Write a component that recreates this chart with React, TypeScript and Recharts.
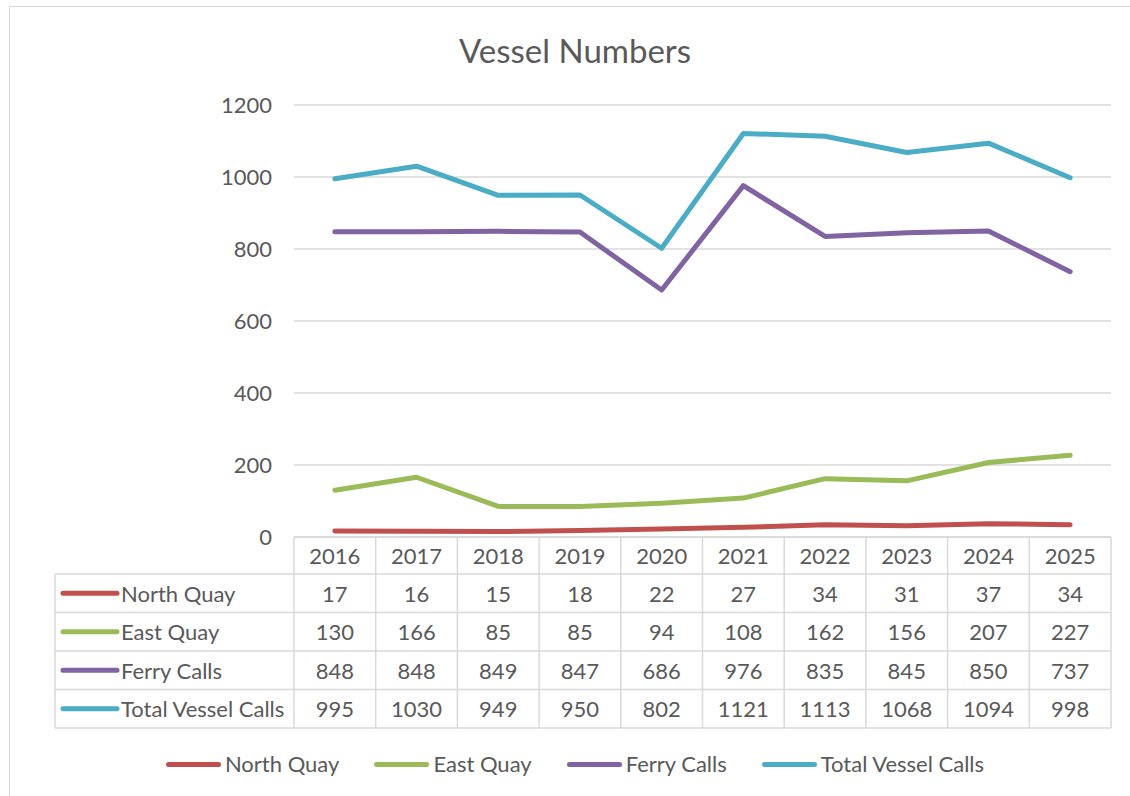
import React from 'react';
import { LineChart, Line, XAxis, YAxis, CartesianGrid } from 'recharts';

const years = ['2016', '2017', '2018', '2019', '2020', '2021', '2022', '2023', '2024', '2025'];
const northQuay = [17, 16, 15, 18, 22, 27, 34, 31, 37, 34];
const eastQuay = [130, 166, 85, 85, 94, 108, 162, 156, 207, 227];
const ferryCalls = [848, 848, 849, 847, 686, 976, 835, 845, 850, 737];
const totalVesselCalls = [995, 1030, 949, 950, 802, 1121, 1113, 1068, 1094, 998];
const yTicks = [0, 200, 400, 600, 800, 1000, 1200];

const series = [
  { key: 'north', name: 'North Quay', values: northQuay, color: '#C0504D' },
  { key: 'east', name: 'East Quay', values: eastQuay, color: '#9BBB59' },
  { key: 'ferry', name: 'Ferry Calls', values: ferryCalls, color: '#8064A2' },
  { key: 'total', name: 'Total Vessel Calls', values: totalVesselCalls, color: '#4BACC6' },
];

const data = years.map((year, i) => {
  const row: Record<string, string | number> = { year };
  series.forEach((s) => {
    row[s.key] = s.values[i];
  });
  return row;
});

const W = 1130;
const H = 796;
const MARGIN = { top: 105, right: 19, bottom: 0, left: 0 };
const YAXIS_W = 294;
const XAXIS_H = 259;
const PLOT_W = W - MARGIN.left - MARGIN.right - YAXIS_W;
const BAND = PLOT_W / years.length;
const HEADER_H = 37;
const ROW_H = 38.5;
const LABEL_COL_LEFT = 55;
const TEXT = '#595959';
const GRID = '#d9d9d9';
const FONT = 'Lato, "Open Sans", sans-serif';
const FS = 22;

function TableColumn(props: any) {
  const { x, y, payload } = props;
  const idx = years.indexOf(String(payload.value));
  const left = x - BAND / 2;
  const right = x + BAND / 2;
  const bottom = y + HEADER_H + ROW_H * series.length;
  const els: React.ReactNode[] = [];
  els.push(
    <text key="h" x={x} y={y + HEADER_H / 2} textAnchor="middle" dominantBaseline="central" fontSize={FS} fill={TEXT} fontFamily={FONT}>
      {payload.value}
    </text>
  );
  series.forEach((s, r) => {
    const cy = y + HEADER_H + ROW_H * r + ROW_H / 2;
    els.push(
      <text key={'v' + r} x={x} y={cy} textAnchor="middle" dominantBaseline="central" fontSize={FS} fill={TEXT} fontFamily={FONT}>
        {s.values[idx]}
      </text>
    );
  });
  els.push(<line key="vr" x1={right} x2={right} y1={y} y2={bottom} stroke={GRID} strokeWidth={1.5} />);
  if (idx === 0) {
    els.push(<line key="vl" x1={left} x2={left} y1={y} y2={bottom} stroke={GRID} strokeWidth={1.5} />);
    els.push(<line key="ll" x1={LABEL_COL_LEFT} x2={LABEL_COL_LEFT} y1={y + HEADER_H} y2={bottom} stroke={GRID} strokeWidth={1.5} />);
    series.forEach((s, r) => {
      const cy = y + HEADER_H + ROW_H * r + ROW_H / 2;
      els.push(
        <line key={'sw' + r} x1={LABEL_COL_LEFT + 8} x2={LABEL_COL_LEFT + 62} y1={cy} y2={cy} stroke={s.color} strokeWidth={5} strokeLinecap="round" />
      );
      els.push(
        <text key={'lb' + r} x={LABEL_COL_LEFT + 66} y={cy} dominantBaseline="central" fontSize={FS} fill={TEXT} fontFamily={FONT}>
          {s.name}
        </text>
      );
    });
  }
  const hx1 = idx === 0 ? LABEL_COL_LEFT : left;
  for (let r = 0; r <= series.length; r++) {
    const ly = y + HEADER_H + ROW_H * r;
    els.push(<line key={'hl' + r} x1={hx1} x2={right} y1={ly} y2={ly} stroke={GRID} strokeWidth={1.5} />);
  }
  return <g>{els}</g>;
}

function LegendBlock() {
  return (
    <div
      style={{
        position: 'absolute',
        left: 0,
        top: 750,
        width: 1150,
        display: 'flex',
        justifyContent: 'center',
        alignItems: 'center',
        fontFamily: FONT,
        fontSize: FS,
        color: TEXT,
        lineHeight: '28px',
      }}
    >
      {series.map((s, i) => (
        <div key={s.key} style={{ display: 'flex', alignItems: 'center', marginLeft: i === 0 ? 0 : 35 }}>
          <div style={{ width: 55, height: 5, borderRadius: 3, background: s.color, marginRight: 4 }} />
          <span>{s.name}</span>
        </div>
      ))}
    </div>
  );
}

export default function App() {
  return (
    <div style={{ position: 'absolute', left: 0, top: 0, width: W, height: H, overflow: 'hidden', background: '#fff' }}>
      <div style={{ position: 'absolute', left: 9, top: 6, width: 1140, height: 820, border: `1.5px solid ${GRID}`, boxSizing: 'border-box' }} />
      <div style={{ position: 'absolute', left: 0, top: 28, width: 1150, textAlign: 'center', fontFamily: FONT, fontSize: 33, lineHeight: '44px', color: TEXT }}>
        Vessel Numbers
      </div>
      <div style={{ position: 'absolute', left: 0, top: 0 }}>
        <LineChart width={W} height={H} data={data} margin={MARGIN}>
          <CartesianGrid vertical={false} stroke={GRID} strokeWidth={1.5} />
          <YAxis
            width={YAXIS_W}
            domain={[0, 1200]}
            ticks={yTicks}
            axisLine={false}
            tickLine={false}
            tickSize={0}
            tickMargin={22}
            tick={{ fontSize: FS, fill: TEXT, fontFamily: FONT }}
          />
          <XAxis
            dataKey="year"
            scale="band"
            height={XAXIS_H}
            axisLine={{ stroke: GRID, strokeWidth: 1.5 }}
            tickLine={false}
            tickSize={0}
            tickMargin={0}
            interval={0}
            tick={<TableColumn />}
          />
          {series.map((s) => (
            <Line
              key={s.key}
              type="linear"
              dataKey={s.key}
              name={s.name}
              stroke={s.color}
              strokeWidth={5}
              strokeLinecap="round"
              strokeLinejoin="round"
              dot={false}
              activeDot={false}
              isAnimationActive={false}
            />
          ))}
        </LineChart>
      </div>
      <LegendBlock />
    </div>
  );
}
